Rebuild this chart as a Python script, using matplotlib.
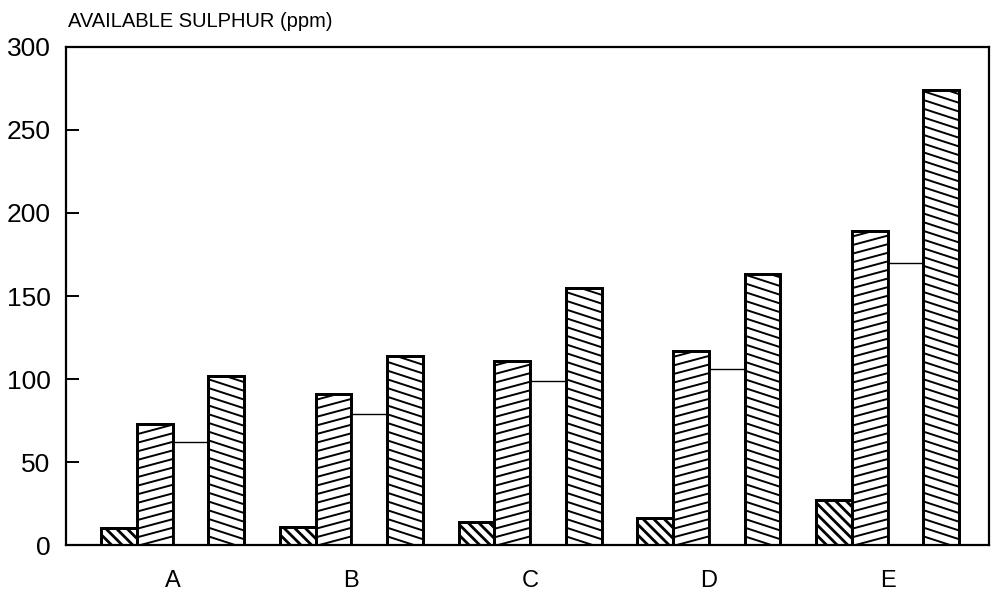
import numpy as np
import matplotlib.pyplot as plt
from matplotlib.lines import Line2D
from matplotlib.transforms import IdentityTransform

plt.rcParams['font.family'] = ['Liberation Sans', 'DejaVu Sans']

# 土壤有效硫（ppm），每组四根柱
sites = ['A', 'B', 'C', 'D', 'E']
s1 = [10, 11, 14, 16, 27]
s2 = [73, 91, 111, 117, 189]
s3 = [62, 79, 99, 106, 170]
s4 = [102, 114, 155, 163, 274]
yticks = [0, 50, 100, 150, 200, 250, 300]


def hatch_bar(ax, patch, angle, spacing, lw):
    # 在像素坐标里画斜线，再裁剪到柱子内部
    bb = patch.get_window_extent()
    a = np.deg2rad(angle)
    d = np.array([np.cos(a), np.sin(a)])
    n = np.array([-np.sin(a), np.cos(a)])
    corners = np.array([[bb.x0, bb.y0], [bb.x1, bb.y0], [bb.x0, bb.y1], [bb.x1, bb.y1]])
    ctr = np.array([(bb.x0 + bb.x1) / 2, (bb.y0 + bb.y1) / 2])
    proj = (corners - ctr) @ n
    L = bb.width + bb.height + 10
    for c in np.arange(proj.min(), proj.max() + spacing, spacing):
        p = ctr + c * n
        ln = Line2D([p[0] - L * d[0], p[0] + L * d[0]], [p[1] - L * d[1], p[1] + L * d[1]],
                    transform=IdentityTransform(), color='black', lw=lw, zorder=2.5)
        ax.add_artist(ln)
        # add_artist 会改写裁剪，所以放在后面设置
        ln.set_clip_path(patch)


fig = plt.figure(figsize=(9.95, 5.91), dpi=100)
ax = fig.add_axes([0.0663, 0.0778, 0.9277, 0.8427])
ax.set_xlim(-0.596, 4.568)
ax.set_ylim(0, 300)

x = np.arange(len(sites))
w = 0.2
styles = [(s1, -45, 7.5, 2.0), (s2, 15, 8.3, 1.4), (s3, None, 0, 0), (s4, -18, 8.3, 1.4)]
for k, (vals, ang, sp, hlw) in enumerate(styles):
    bars = ax.bar(x + (k - 1.5) * w, vals, w, color='white', edgecolor='black',
                  linewidth=1.0 if ang is None else 2.0, zorder=2)
    if ang is not None:
        for b in bars:
            hatch_bar(ax, b, ang, sp, hlw)
            # 边框再叠一层，压住斜线端头
            edge = plt.Rectangle(b.get_xy(), b.get_width(), b.get_height(), fill=False,
                                 edgecolor='black', linewidth=2.0, zorder=3)
            ax.add_patch(edge)

for s in ax.spines.values():
    s.set_linewidth(1.6)
ax.set_yticks(yticks)
ax.set_xticks(x)
ax.set_xticklabels(sites)
ax.tick_params(axis='y', direction='in', length=9, width=1.4, labelsize=19, pad=11)
ax.tick_params(axis='x', length=0, labelsize=17, pad=18)

fig.text(0.0683, 0.947, 'AVAILABLE SULPHUR (ppm)', fontsize=14.5, ha='left', va='bottom')

plt.savefig('out.png', dpi=100)
